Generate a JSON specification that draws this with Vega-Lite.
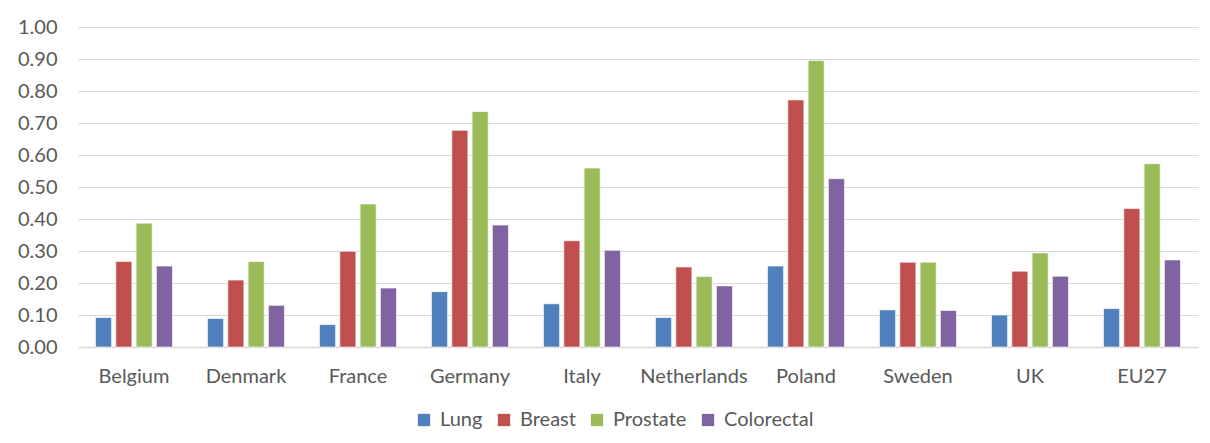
{
  "$schema": "https://vega.github.io/schema/vega-lite/v6.json",
  "width": 1120,
  "height": 320,
  "autosize": "none",
  "padding": {"left": 78, "top": 27, "right": 12, "bottom": 96},
  "background": "white",
  "config": {
    "view": {"stroke": null},
    "font": "Lato",
    "axis": {"labelFont": "Lato", "labelColor": "#595959", "labelFontSize": 20, "titleFont": "Lato"},
    "legend": {"labelFont": "Lato"}
  },
  "data": {
    "values": [
      {"country": "Belgium", "type": "Lung", "value": 0.092},
      {"country": "Belgium", "type": "Breast", "value": 0.267},
      {"country": "Belgium", "type": "Prostate", "value": 0.387},
      {"country": "Belgium", "type": "Colorectal", "value": 0.253},
      {"country": "Denmark", "type": "Lung", "value": 0.089},
      {"country": "Denmark", "type": "Breast", "value": 0.209},
      {"country": "Denmark", "type": "Prostate", "value": 0.267},
      {"country": "Denmark", "type": "Colorectal", "value": 0.130},
      {"country": "France", "type": "Lung", "value": 0.070},
      {"country": "France", "type": "Breast", "value": 0.299},
      {"country": "France", "type": "Prostate", "value": 0.447},
      {"country": "France", "type": "Colorectal", "value": 0.184},
      {"country": "Germany", "type": "Lung", "value": 0.173},
      {"country": "Germany", "type": "Breast", "value": 0.677},
      {"country": "Germany", "type": "Prostate", "value": 0.736},
      {"country": "Germany", "type": "Colorectal", "value": 0.381},
      {"country": "Italy", "type": "Lung", "value": 0.135},
      {"country": "Italy", "type": "Breast", "value": 0.332},
      {"country": "Italy", "type": "Prostate", "value": 0.559},
      {"country": "Italy", "type": "Colorectal", "value": 0.302},
      {"country": "Netherlands", "type": "Lung", "value": 0.092},
      {"country": "Netherlands", "type": "Breast", "value": 0.250},
      {"country": "Netherlands", "type": "Prostate", "value": 0.220},
      {"country": "Netherlands", "type": "Colorectal", "value": 0.191},
      {"country": "Poland", "type": "Lung", "value": 0.253},
      {"country": "Poland", "type": "Breast", "value": 0.772},
      {"country": "Poland", "type": "Prostate", "value": 0.895},
      {"country": "Poland", "type": "Colorectal", "value": 0.526},
      {"country": "Sweden", "type": "Lung", "value": 0.116},
      {"country": "Sweden", "type": "Breast", "value": 0.265},
      {"country": "Sweden", "type": "Prostate", "value": 0.265},
      {"country": "Sweden", "type": "Colorectal", "value": 0.114},
      {"country": "UK", "type": "Lung", "value": 0.100},
      {"country": "UK", "type": "Breast", "value": 0.237},
      {"country": "UK", "type": "Prostate", "value": 0.294},
      {"country": "UK", "type": "Colorectal", "value": 0.221},
      {"country": "EU27", "type": "Lung", "value": 0.120},
      {"country": "EU27", "type": "Breast", "value": 0.433},
      {"country": "EU27", "type": "Prostate", "value": 0.573},
      {"country": "EU27", "type": "Colorectal", "value": 0.272}
    ]
  },
  "mark": {"type": "bar", "stroke": "white", "strokeOpacity": 0.6, "strokeWidth": 1},
  "encoding": {
    "x": {
      "field": "country",
      "type": "nominal",
      "sort": null,
      "scale": {"paddingInner": 0.277, "paddingOuter": 0.1385},
      "axis": {"title": null, "labelAngle": 0, "ticks": false, "domainColor": "#d9d9d9", "domainWidth": 1.5, "labelPadding": 29, "labelBaseline": "middle"}
    },
    "xOffset": {
      "field": "type",
      "type": "nominal",
      "sort": ["Lung", "Breast", "Prostate", "Colorectal"],
      "scale": {"paddingInner": 0.21, "paddingOuter": 0.1}
    },
    "y": {
      "field": "value",
      "type": "quantitative",
      "scale": {"domain": [0, 1], "nice": false},
      "axis": {"title": null, "format": ".2f", "values": [0, 0.1, 0.2, 0.3, 0.4, 0.5, 0.6, 0.7, 0.8, 0.9, 1.0], "labelOverlap": false, "domain": false, "ticks": false, "gridColor": "#d9d9d9", "gridWidth": 1.2, "labelPadding": 21}
    },
    "color": {
      "field": "type",
      "type": "nominal",
      "sort": ["Lung", "Breast", "Prostate", "Colorectal"],
      "scale": {"domain": ["Lung", "Breast", "Prostate", "Colorectal"], "range": ["#4F81BD", "#C0504D", "#9BBB59", "#8064A2"]},
      "legend": {
        "title": null,
        "orient": "none",
        "direction": "horizontal",
        "legendX": 336,
        "legendY": 383,
        "symbolType": "square",
        "symbolSize": 150,
        "symbolStrokeWidth": 0,
        "labelFontSize": 20,
        "labelColor": "#595959",
        "columnPadding": 11,
        "labelOffset": 6
      }
    }
  }
}
